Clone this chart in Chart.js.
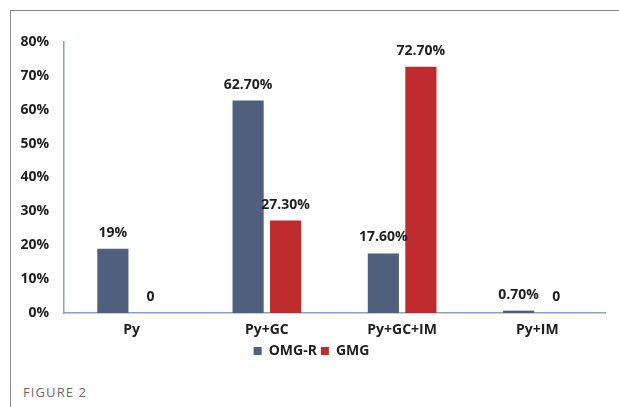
<!DOCTYPE html>
<html>
<head>
<meta charset="utf-8">
<script src="https://cdn.jsdelivr.net/npm/chart.js@4/dist/chart.umd.min.js"></script>
<style>
    body { margin: 0; background: #fff; }
    #frame {
        position: absolute; left: 10px; top: 10px; width: 609px; height: 397px;
        border-top: 1px solid #8a8a8a; border-left: 1px solid #8a8a8a;
    }
    #wrap { position: absolute; left: 0; top: 0; width: 619px; height: 372px; }
    #caption {
        position: absolute; left: 23px; top: 383px;
        font: 13px "Open Sans", sans-serif; color: #6b6b6b; letter-spacing: 1.1px;
    }
</style>
</head>
<body>
<div id="frame"></div>
<div id="wrap"><canvas id="myChart"></canvas></div>
<div id="caption">FIGURE 2</div>
<script>
const categories = ['Py', 'Py+GC', 'Py+GC+IM', 'Py+IM'];
const omgValues = [19, 62.7, 17.6, 0.7];
const gmgValues = [0, 27.3, 72.7, 0];
const omgLabels = ['19%', '62.70%', '17.60%', '0.70%'];
const gmgLabels = ['0', '27.30%', '72.70%', '0'];

const boldFont = { family: '"Open Sans", sans-serif', size: 14, weight: 'bold' };

// prints the value text over each bar
const barLabels = {
    id: 'barLabels',
    afterDatasetsDraw(chart) {
        const ctx = chart.ctx;
        ctx.save();
        ctx.font = 'bold 14px "Open Sans", sans-serif';
        ctx.fillStyle = '#1e1e1e';
        ctx.textAlign = 'center';
        ctx.textBaseline = 'middle';
        chart.data.datasets.forEach((ds, i) => {
            chart.getDatasetMeta(i).data.forEach((bar, j) => {
                ctx.fillText(ds.labels[j], bar.x, bar.y - 16);
            });
        });
        ctx.restore();
    }
};

new Chart(document.getElementById('myChart'), {
    type: 'bar',
    data: {
        labels: categories,
        datasets: [
            { label: 'OMG-R', data: omgValues, labels: omgLabels, backgroundColor: '#4f5f7d' },
            { label: 'GMG', data: gmgValues, labels: gmgLabels, backgroundColor: '#bf2a2c' }
        ]
    },
    options: {
        responsive: true,
        maintainAspectRatio: false,
        animation: false,
        categoryPercentage: 0.555,
        barPercentage: 0.83,
        layout: { padding: { top: 42, left: 18, right: 14, bottom: 4 } },
        plugins: {
            tooltip: { enabled: false },
            legend: {
                position: 'bottom',
                labels: { boxWidth: 8, boxHeight: 8, color: '#1e1e1e', padding: 4,
                    font: { ...boldFont, lineHeight: 0.6 } }
            }
        },
        scales: {
            x: {
                grid: { display: false },
                border: { color: '#8b9fc8', width: 1.5 },
                ticks: { color: '#1e1e1e', font: { ...boldFont, lineHeight: 0.5 }, padding: 6 }
            },
            y: {
                min: 0,
                max: 80,
                afterFit(scale) { scale.width = 46; },
                grid: { display: false },
                border: { color: '#8b9fc8', width: 1.5 },
                ticks: { stepSize: 10, color: '#1e1e1e', font: boldFont, padding: 7,
                    callback: v => v + '%' }
            }
        }
    },
    plugins: [barLabels]
});
</script>
</body>
</html>
